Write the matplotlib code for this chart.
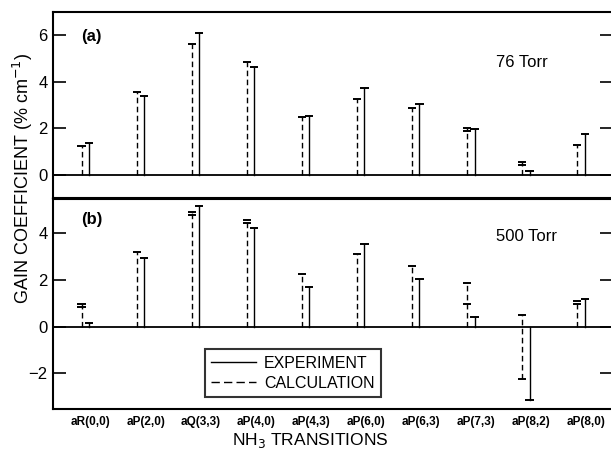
import matplotlib
matplotlib.use("Agg")
import matplotlib.pyplot as plt
from matplotlib.lines import Line2D

plt.rcParams['font.family'] = ['Liberation Sans', 'DejaVu Sans']

# transitions
labels = ["aR(0,0)", "aP(2,0)", "aQ(3,3)", "aP(4,0)", "aP(4,3)",
          "aP(6,0)", "aP(6,3)", "aP(7,3)", "aP(8,2)", "aP(8,0)"]

# 76 Torr
exp_76 = [1.36, 3.39, 6.11, 4.64, 2.54, 3.71, 3.04, 1.96, 0.17, 1.76]
calc_76 = [1.24, 3.54, 5.61, 4.86, 2.47, 3.26, 2.86, 2.03, 0.53, 1.26]
calc_76_lo = [None, None, None, None, None, None, None, 1.86, 0.40, None]

# 500 Torr
exp_500 = [0.16, 2.93, 5.14, 4.22, 1.69, 3.54, 2.03, 0.40, -3.14, 1.20]
calc_500 = [0.97, 3.19, 4.89, 4.54, 2.26, 3.10, 2.60, 1.86, 0.50, 1.10]
calc_500_lo = [0.83, None, 4.79, 4.43, None, None, None, 0.96, -2.24, 0.96]

xpos = list(range(1, len(labels) + 1))
off = 0.067   # dashed left, solid right
cw = 0.075    # half cap width
dash = (0, (4, 2.5))


def draw_panel(ax, exp, calc, calc_lo):
    ax.axhline(0, color='black', lw=1.3, zorder=1)
    for x, e, c, lo in zip(xpos, exp, calc, calc_lo):
        # calculation (dashed)
        xc = x - off
        vals = [c] if lo is None else [c, lo]
        ax.plot([xc, xc], [min(0, min(vals)), max(0, max(vals))],
                color='black', lw=1.0, linestyle=dash)
        for v in vals:
            ax.plot([xc - cw, xc + cw], [v, v], color='black', lw=1.4, solid_capstyle='butt')
        # experiment (solid)
        xe = x + off
        ax.plot([xe, xe], [min(0, e), max(0, e)], color='black', lw=1.0)
        ax.plot([xe - cw, xe + cw], [e, e], color='black', lw=1.4, solid_capstyle='butt')

    ax.set_xlim(0.414, 10.563)
    ax.tick_params(axis='y', which='both', direction='in', length=9, width=1.2,
                   right=True, labelsize=12, pad=4)
    ax.tick_params(axis='x', length=0)
    for s in ax.spines.values():
        s.set_linewidth(1.5)


fig = plt.figure(figsize=(6.11, 4.51), dpi=100)
ax1 = fig.add_axes([0.0867, 0.561, 0.915, 0.4124])
ax2 = fig.add_axes([0.0867, 0.0931, 0.915, 0.4657])

draw_panel(ax1, exp_76, calc_76, calc_76_lo)
ax1.set_ylim(-1.0, 7.0)
ax1.set_yticks([0, 2, 4, 6])
ax1.set_xticks([])
ax1.text(0.93, 5.95, "(a)", fontsize=12, fontweight='bold', va='center', ha='left')
ax1.text(8.92, 4.82, "76 Torr", fontsize=12, va='center', ha='center')

draw_panel(ax2, exp_500, calc_500, calc_500_lo)
ax2.set_ylim(-3.53, 5.46)
ax2.set_yticks([-2, 0, 2, 4])
ax2.set_yticklabels(["\u22122", "0", "2", "4"])
ax2.set_xticks([x + 0.1 for x in xpos])
ax2.set_xticklabels(labels, fontsize=8.5, fontweight='bold')
ax2.tick_params(axis='x', pad=5)
ax2.text(0.93, 4.6, "(b)", fontsize=12, fontweight='bold', va='center', ha='left')
ax2.text(9.01, 3.87, "500 Torr", fontsize=12, va='center', ha='center')

handles = [Line2D([], [], color='black', lw=1.0),
           Line2D([], [], color='black', lw=1.0, linestyle=(0, (6, 3)))]
leg = ax2.legend(handles, ["EXPERIMENT", "CALCULATION"], loc='lower left',
                 bbox_to_anchor=(0.272, 0.057), fontsize=11.5, frameon=True,
                 fancybox=False, edgecolor='black', handlelength=2.8,
                 handletextpad=0.5, borderpad=0.4, labelspacing=0.3,
                 borderaxespad=0)
leg.get_frame().set_linewidth(1.5)

fig.text(0.037, 0.605, "GAIN COEFFICIENT (% cm$^{-1}$)", rotation=90,
         fontsize=13, ha='center', va='center')
fig.text(0.508, 0.024, "NH$_3$ TRANSITIONS", fontsize=12.5, ha='center', va='center')

fig.savefig("out.png", dpi=100)
